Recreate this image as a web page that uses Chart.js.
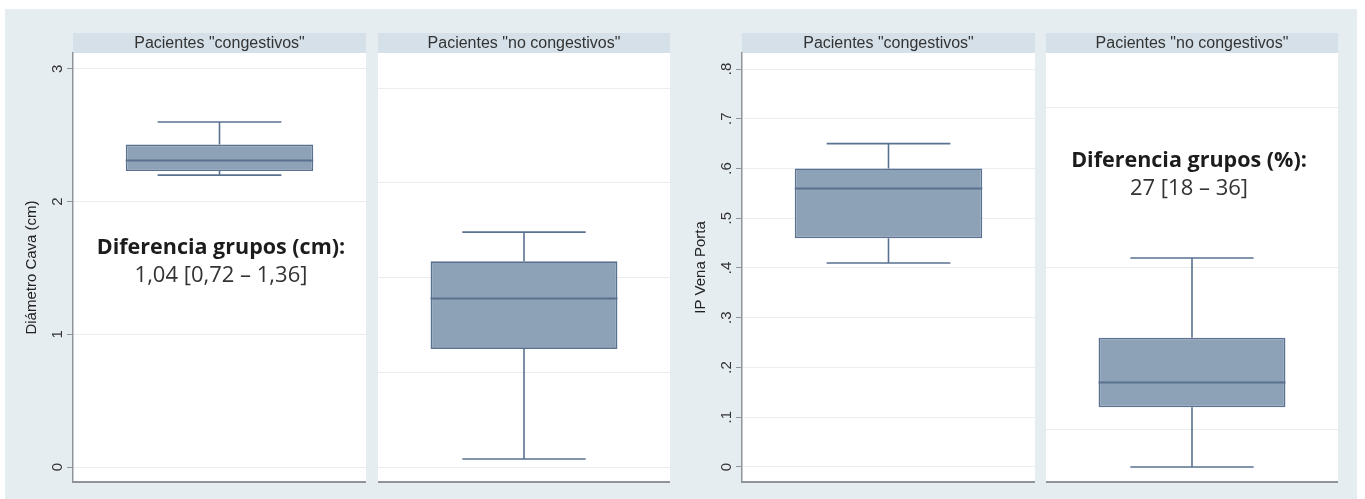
<!DOCTYPE html>
<html>
<head>
<meta charset="utf-8">
<script src="https://cdn.jsdelivr.net/npm/chart.js@4.4.1/dist/chart.umd.min.js"></script>
<style>
  html, body { margin: 0; padding: 0; background: #ffffff; }
  #page { position: relative; width: 1365px; height: 499px; overflow: hidden; }
  #frame { position: absolute; left: 5px; top: 9px; width: 1352px; height: 490px; background: #e6edf1; }
  canvas { position: absolute; top: 0; }
</style>
</head>
<body>
<div id="page">
  <div id="frame"></div>
  <canvas id="cavaCong"></canvas>
  <canvas id="cavaNoCong"></canvas>
  <canvas id="portaCong"></canvas>
  <canvas id="portaNoCong"></canvas>
</div>
<script>
// Groups shown as facets
const groups = ['Pacientes "congestivos"', 'Pacientes "no congestivos"'];

// Diámetro de la vena cava (cm): whisker ends, quartiles and median per group
const cavaLow    = [2.20, 0.06];
const cavaQ1     = [2.23, 0.89];
const cavaMedian = [2.31, 1.27];
const cavaQ3     = [2.43, 1.55];
const cavaHigh   = [2.60, 1.77];

// Índice de pulsatilidad de la vena porta
const portaLow    = [0.41, 0.00];
const portaQ1     = [0.46, 0.12];
const portaMedian = [0.56, 0.17];
const portaQ3     = [0.60, 0.26];
const portaHigh   = [0.65, 0.42];

// Axis ticks
const cavaTicks = [0, 1, 2, 3];
const cavaTickLabels = ['0', '1', '2', '3'];
const portaTicks = [0, 0.1, 0.2, 0.3, 0.4, 0.5, 0.6, 0.7, 0.8];
const portaTickLabels = ['0', '.1', '.2', '.3', '.4', '.5', '.6', '.7', '.8'];

// Gridlines of the second facet in each panel
const cavaGridNoCong = [0, 0.714, 1.428, 2.142, 2.856];
const portaGridNoCong = [0.076, 0.4, 0.722];

// Between-group differences
const cavaDiffTitle = 'Diferencia grupos (cm):';
const cavaDiffValue = '1,04 [0,72 – 1,36]';
const portaDiffTitle = 'Diferencia grupos (%):';
const portaDiffValue = '27 [18 – 36]';

// Styling
const FONT = '"Liberation Sans", Arial, Helvetica, sans-serif';
const NOTE_FONT = '"Open Sans", "Noto Sans", sans-serif';
const GRID = '#e9eef1';
const AXIS = '#8f9499';
const STRIP = '#d5e0e8';
const BOX_FILL = '#8da1b7';
const BOX_LINE = '#5a7290';
const TEXT = '#333333';

function decorPlugin(cfg) {
  return {
    id: 'facetDecor',
    beforeDraw(chart) {
      const { ctx, chartArea: a } = chart;
      ctx.save();
      // plot background and strip header
      ctx.fillStyle = '#ffffff';
      ctx.fillRect(a.left, a.top, a.right - a.left, a.bottom - a.top);
      ctx.fillStyle = STRIP;
      ctx.fillRect(a.left, a.top - 20, a.right - a.left, 20);
      ctx.fillStyle = TEXT;
      ctx.font = '16px ' + FONT;
      ctx.textAlign = 'center';
      ctx.textBaseline = 'middle';
      ctx.fillText(chart.data.labels[0], (a.left + a.right) / 2, a.top - 9.5);
      ctx.restore();
    },
    afterDraw(chart) {
      const { ctx, chartArea: a } = chart;
      const yScale = chart.scales.y;
      ctx.save();
      // vertical tick labels
      if (cfg.tickLabels) {
        ctx.fillStyle = TEXT;
        ctx.font = '15px ' + FONT;
        ctx.textAlign = 'center';
        ctx.textBaseline = 'alphabetic';
        cfg.tickValues.forEach((v, i) => {
          const y = yScale.getPixelForValue(v);
          ctx.save();
          ctx.translate(a.left - 11, y);
          ctx.rotate(-Math.PI / 2);
          ctx.fillText(cfg.tickLabels[i], 0, 0);
          ctx.restore();
        });
      }
      // difference note
      if (cfg.note) {
        const cx = (a.left + a.right) / 2 + cfg.note.dx;
        ctx.textAlign = 'center';
        ctx.textBaseline = 'middle';
        ctx.fillStyle = '#1c1c1c';
        ctx.font = 'bold 21.5px ' + NOTE_FONT;
        ctx.fillText(cfg.note.title, cx, a.top + cfg.note.dy);
        ctx.fillStyle = '#333333';
        ctx.font = '22px ' + NOTE_FONT;
        ctx.fillText(cfg.note.value, cx, a.top + cfg.note.dy + 28);
      }
      ctx.restore();
    },
    afterDatasetsDraw(chart) {
      const { ctx } = chart;
      const yScale = chart.scales.y;
      const bar = chart.getDatasetMeta(0).data[0];
      const x = bar.x;
      const half = bar.width / 2;
      const cap = bar.width * 0.33;
      const py = v => yScale.getPixelForValue(v);
      ctx.save();
      ctx.strokeStyle = BOX_LINE;
      ctx.lineWidth = 1.6;
      ctx.beginPath();
      // upper whisker
      ctx.moveTo(x, py(cfg.q3)); ctx.lineTo(x, py(cfg.high));
      ctx.moveTo(x - cap, py(cfg.high)); ctx.lineTo(x + cap, py(cfg.high));
      // lower whisker
      ctx.moveTo(x, py(cfg.q1)); ctx.lineTo(x, py(cfg.low));
      ctx.moveTo(x - cap, py(cfg.low)); ctx.lineTo(x + cap, py(cfg.low));
      ctx.stroke();
      // median
      ctx.lineWidth = 2;
      ctx.beginPath();
      ctx.moveTo(x - half, py(cfg.median)); ctx.lineTo(x + half, py(cfg.median));
      ctx.stroke();
      ctx.restore();
    }
  };
}

function boxFacet(id, cfg) {
  const el = document.getElementById(id);
  const w = cfg.right - cfg.canvasLeft;
  el.width = w;
  el.height = 499;
  el.style.left = cfg.canvasLeft + 'px';
  el.style.width = w + 'px';
  el.style.height = '499px';
  const hasAxis = cfg.axisWidth > 0;
  return new Chart(el, {
    type: 'bar',
    data: {
      labels: [cfg.label],
      datasets: [{
        data: [[cfg.q1, cfg.q3]],
        backgroundColor: BOX_FILL,
        borderColor: BOX_LINE,
        borderWidth: 1.6,
        borderSkipped: false,
        barPercentage: 0.64,
        categoryPercentage: 1
      }]
    },
    options: {
      responsive: false,
      animation: false,
      events: [],
      layout: { padding: { left: 0, right: 0, top: 53, bottom: 17 } },
      plugins: { legend: { display: false }, tooltip: { enabled: false } },
      scales: {
        x: {
          display: true,
          grid: { display: false, drawTicks: false },
          ticks: { display: false },
          border: { display: true, color: AXIS, width: 2 },
          afterFit: s => { s.height = 0; }
        },
        y: {
          min: cfg.min,
          max: cfg.max,
          afterBuildTicks: s => { s.ticks = cfg.grid.map(v => ({ value: v })); },
          afterFit: s => { s.width = cfg.axisWidth; },
          ticks: { display: false },
          grid: { color: GRID, lineWidth: 1, drawTicks: hasAxis, tickLength: 6, tickColor: AXIS, tickWidth: 1 },
          border: { display: hasAxis, color: AXIS, width: 1.5 },
          title: {
            display: !!cfg.title,
            text: cfg.title || '',
            color: '#222222',
            font: { family: FONT, size: 15 },
            padding: { top: 18, bottom: 0 }
          }
        }
      }
    },
    plugins: [decorPlugin(cfg)]
  });
}

const cavaRange = { min: -0.113, max: 3.12 };
const portaRange = { min: -0.0302, max: 0.8322 };

boxFacet('cavaCong', Object.assign({
  label: groups[0], canvasLeft: 5, right: 366, axisWidth: 68,
  title: 'Diámetro Cava (cm)', grid: cavaTicks, tickValues: cavaTicks, tickLabels: cavaTickLabels,
  low: cavaLow[0], q1: cavaQ1[0], median: cavaMedian[0], q3: cavaQ3[0], high: cavaHigh[0],
  note: { title: cavaDiffTitle, value: cavaDiffValue, dx: 1.5, dy: 195 }
}, cavaRange));

boxFacet('cavaNoCong', Object.assign({
  label: groups[1], canvasLeft: 378, right: 670, axisWidth: 0,
  grid: cavaGridNoCong,
  low: cavaLow[1], q1: cavaQ1[1], median: cavaMedian[1], q3: cavaQ3[1], high: cavaHigh[1]
}, cavaRange));

boxFacet('portaCong', Object.assign({
  label: groups[0], canvasLeft: 674, right: 1035, axisWidth: 68,
  title: 'IP Vena Porta', grid: portaTicks, tickValues: portaTicks, tickLabels: portaTickLabels,
  low: portaLow[0], q1: portaQ1[0], median: portaMedian[0], q3: portaQ3[0], high: portaHigh[0]
}, portaRange));

boxFacet('portaNoCong', Object.assign({
  label: groups[1], canvasLeft: 1046, right: 1338, axisWidth: 0,
  grid: portaGridNoCong,
  low: portaLow[1], q1: portaQ1[1], median: portaMedian[1], q3: portaQ3[1], high: portaHigh[1],
  note: { title: portaDiffTitle, value: portaDiffValue, dx: -3, dy: 108 }
}, portaRange));
</script>
</body>
</html>
